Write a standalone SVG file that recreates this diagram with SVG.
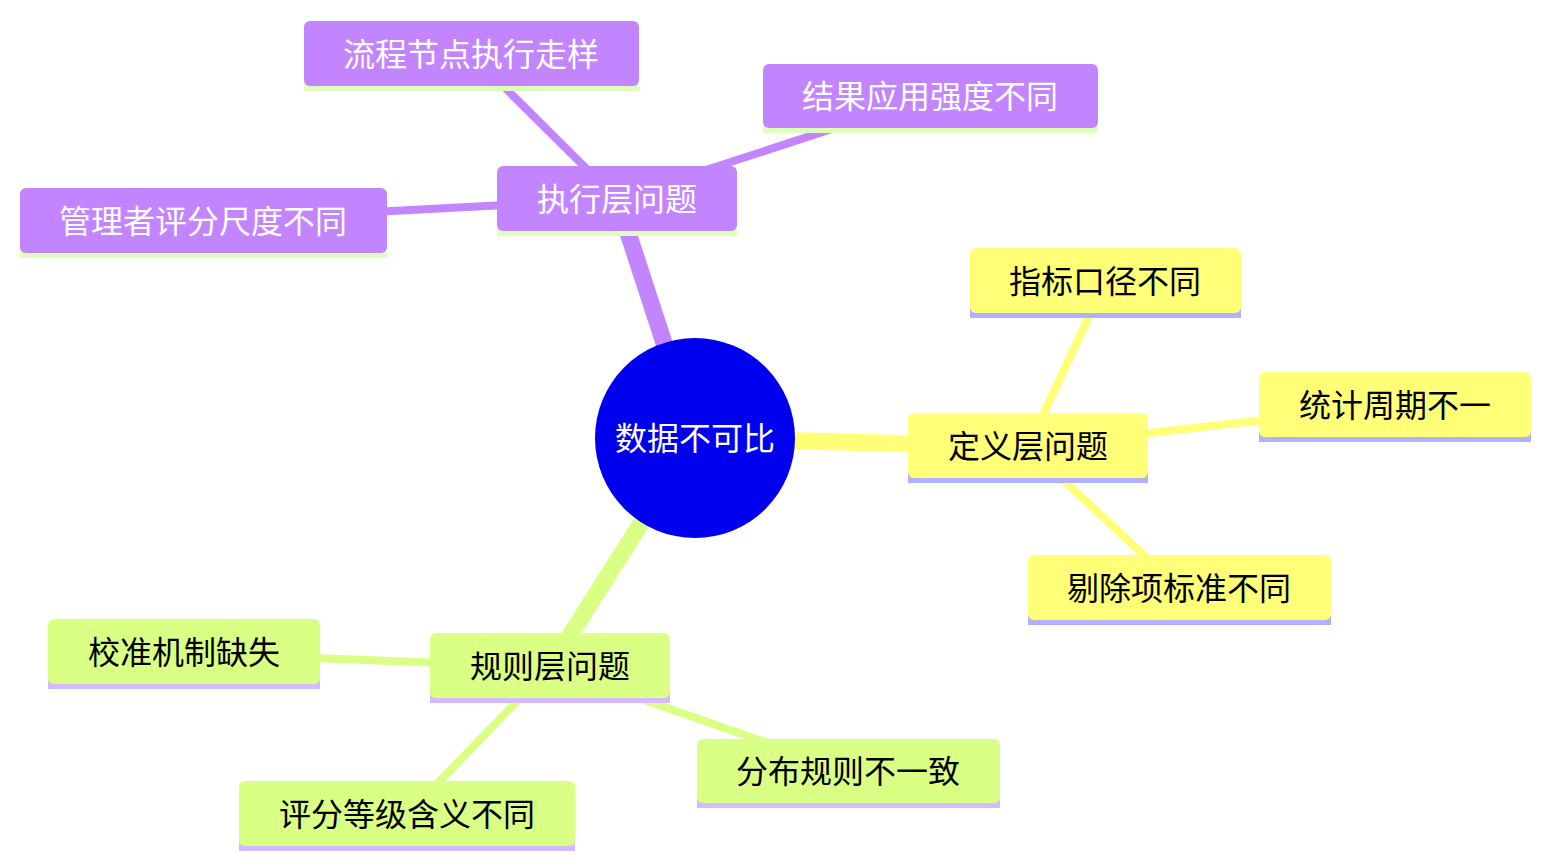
<svg xmlns="http://www.w3.org/2000/svg" width="1551" height="868" viewBox="0 0 1551 868">
<style>
text{font-family:"Noto Sans CJK SC","Noto Sans",sans-serif;font-size:32px;text-anchor:middle;dominant-baseline:central}
.p rect.b{fill:#C385FF}.p rect.u{fill:#DDFFBA}.p text{fill:#fff}
.y rect.b{fill:#FFFF78}.y rect.u{fill:#B1B1FF}.y text{fill:#000}
.g rect.b{fill:#DAFF85}.g rect.u{fill:#D6BAFF}.g text{fill:#000}
.e1{stroke-width:17;stroke-linecap:butt}
.e2{stroke-width:8;stroke-linecap:butt}
.ep{stroke:#C385FF}.ey{stroke:#FFFF78}.eg{stroke:#DAFF85}
</style>
<rect width="1551" height="868" fill="#fff"/>
<g id="connectors">
<line class="e1 ep" x1="695" y1="438" x2="617" y2="199"/>
<line class="e1 ey" x1="695" y1="438" x2="1028" y2="447"/>
<line class="e1 eg" x1="695" y1="438" x2="550" y2="667"/>
<line class="e2 ep" x1="617" y1="199" x2="471" y2="54"/>
<line class="e2 ep" x1="617" y1="199" x2="930" y2="97"/>
<line class="e2 ep" x1="617" y1="199" x2="203" y2="221"/>
<line class="e2 ey" x1="1028" y1="447" x2="1105" y2="282"/>
<line class="e2 ey" x1="1028" y1="447" x2="1395" y2="405"/>
<line class="e2 ey" x1="1028" y1="447" x2="1179" y2="588"/>
<line class="e2 eg" x1="550" y1="667" x2="184" y2="653"/>
<line class="e2 eg" x1="550" y1="667" x2="848" y2="771"/>
<line class="e2 eg" x1="550" y1="667" x2="407" y2="815"/>
</g>
<g id="root">
<circle cx="695" cy="438" r="100" fill="#0000EE"/>
<text x="695" y="436" fill="#fff">数据不可比</text>
</g>
<g id="n1" class="p">
<rect class="u" x="497" y="226" width="240" height="10"/>
<rect class="b" x="497" y="166" width="240" height="65" rx="6"/>
<text x="617" y="197">执行层问题</text>
</g>
<g id="n1a" class="p">
<rect class="u" x="304" y="81" width="335" height="10"/>
<rect class="b" x="304" y="21" width="335" height="65" rx="6"/>
<text x="471" y="52">流程节点执行走样</text>
</g>
<g id="n1b" class="p">
<rect class="u" x="763" y="123" width="335" height="10"/>
<rect class="b" x="763" y="64" width="335" height="64" rx="6"/>
<text x="930" y="94">结果应用强度不同</text>
</g>
<g id="n1c" class="p">
<rect class="u" x="20" y="248" width="367" height="10"/>
<rect class="b" x="20" y="188" width="367" height="65" rx="6"/>
<text x="203" y="219">管理者评分尺度不同</text>
</g>
<g id="n2" class="y">
<rect class="u" x="908" y="473" width="240" height="10"/>
<rect class="b" x="908" y="413" width="240" height="65" rx="6"/>
<text x="1028" y="444">定义层问题</text>
</g>
<g id="n2a" class="y">
<rect class="u" x="970" y="308" width="271" height="10"/>
<rect class="b" x="970" y="248" width="271" height="65" rx="6"/>
<text x="1105" y="279">指标口径不同</text>
</g>
<g id="n2b" class="y">
<rect class="u" x="1259" y="432" width="272" height="10"/>
<rect class="b" x="1259" y="372" width="272" height="65" rx="6"/>
<text x="1395" y="403">统计周期不一</text>
</g>
<g id="n2c" class="y">
<rect class="u" x="1028" y="615" width="303" height="10"/>
<rect class="b" x="1028" y="555" width="303" height="65" rx="6"/>
<text x="1179" y="586">剔除项标准不同</text>
</g>
<g id="n3" class="g">
<rect class="u" x="430" y="693" width="240" height="10"/>
<rect class="b" x="430" y="633" width="240" height="65" rx="6"/>
<text x="550" y="664">规则层问题</text>
</g>
<g id="n3a" class="g">
<rect class="u" x="48" y="679" width="272" height="10"/>
<rect class="b" x="48" y="619" width="272" height="65" rx="6"/>
<text x="184" y="650">校准机制缺失</text>
</g>
<g id="n3b" class="g">
<rect class="u" x="697" y="798" width="303" height="10"/>
<rect class="b" x="697" y="739" width="303" height="64" rx="6"/>
<text x="848" y="769">分布规则不一致</text>
</g>
<g id="n3c" class="g">
<rect class="u" x="239" y="841" width="336" height="10"/>
<rect class="b" x="239" y="781" width="336" height="65" rx="6"/>
<text x="407" y="812">评分等级含义不同</text>
</g>
</svg>
